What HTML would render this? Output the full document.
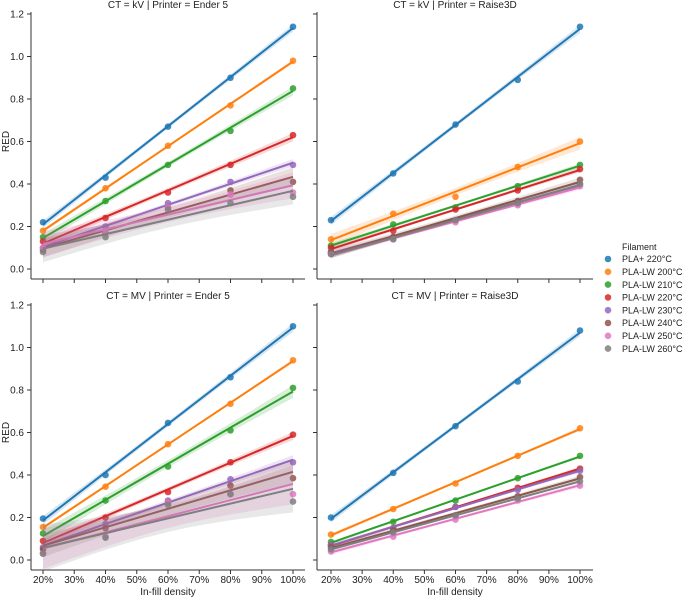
<!DOCTYPE html>
<html><head><meta charset="utf-8">
<style>
body{margin:0;background:#fff;}
svg{display:block;font-family:"Liberation Sans","DejaVu Sans",sans-serif;}
</style></head>
<body>
<svg id="chart" width="685" height="597" viewBox="0 0 685 597" xmlns="http://www.w3.org/2000/svg"></svg>
<script>
const densities = [20, 40, 60, 80, 100];
const filaments = ["PLA+ 220°C","PLA-LW 200°C","PLA-LW 210°C","PLA-LW 220°C","PLA-LW 230°C","PLA-LW 240°C","PLA-LW 250°C","PLA-LW 260°C"];
const colors = ["#1f77b4","#ff7f0e","#2ca02c","#d62728","#9467bd","#8c564b","#e377c2","#7f7f7f"];
const xTicks = [20,30,40,50,60,70,80,90,100];
const yTicks = [0,0.2,0.4,0.6,0.8,1.0,1.2];
const kvEnder = [
 [0.22,0.43,0.67,0.90,1.14],[0.18,0.38,0.58,0.77,0.98],[0.15,0.32,0.49,0.65,0.85],[0.13,0.24,0.36,0.49,0.63],
 [0.10,0.20,0.31,0.41,0.49],[0.09,0.17,0.29,0.37,0.41],[0.10,0.18,0.29,0.35,0.36],[0.08,0.15,0.28,0.31,0.34]];
const kvRaise = [
 [0.23,0.45,0.68,0.89,1.14],[0.14,0.26,0.34,0.48,0.60],[0.11,0.21,0.29,0.39,0.49],[0.10,0.18,0.28,0.37,0.47],
 [0.08,0.15,0.23,0.31,0.40],[0.08,0.15,0.23,0.32,0.42],[0.07,0.14,0.22,0.30,0.39],[0.07,0.14,0.23,0.31,0.40]];
const mvEnder = [
 [0.195,0.40,0.645,0.86,1.10],[0.155,0.345,0.545,0.735,0.94],[0.125,0.28,0.44,0.61,0.81],[0.09,0.20,0.32,0.46,0.59],
 [0.06,0.17,0.28,0.38,0.46],[0.05,0.15,0.27,0.35,0.385],[0.03,0.11,0.27,0.31,0.31],[0.03,0.105,0.26,0.31,0.275]];
const mvRaise = [
 [0.20,0.41,0.63,0.84,1.08],[0.12,0.24,0.36,0.49,0.62],[0.085,0.18,0.28,0.385,0.49],[0.07,0.15,0.25,0.34,0.43],
 [0.07,0.15,0.25,0.33,0.42],[0.06,0.14,0.21,0.30,0.39],[0.04,0.11,0.19,0.28,0.35],[0.05,0.13,0.21,0.29,0.37]];
const panelTitles = ["CT = kV | Printer = Ender 5","CT = kV | Printer = Raise3D","CT = MV | Printer = Ender 5","CT = MV | Printer = Raise3D"];

const NS="http://www.w3.org/2000/svg";
const svg=document.getElementById('chart');
function mk(tag,attrs,parent){const e=document.createElementNS(NS,tag);for(const k in attrs)e.setAttribute(k,attrs[k]);(parent||svg).appendChild(e);return e;}

const panels=[
 {data:kvEnder,ax:31,x20:43,x100:293,xEnd:305,y0:269,y12:14,bottom:279,left:true,xl:false},
 {data:kvRaise,ax:317,x20:331,x100:580,xEnd:593,y0:269,y12:14,bottom:279,left:false,xl:false},
 {data:mvEnder,ax:31,x20:43,x100:293,xEnd:305,y0:560,y12:305,bottom:570,left:true,xl:true},
 {data:mvRaise,ax:317,x20:331,x100:580,xEnd:593,y0:560,y12:305,bottom:570,left:false,xl:true}];

panels.forEach((p,pi)=>{
 const g=mk('g',{});
 
 
 const X=v=>p.x20+(v-20)*(p.x100-p.x20)/80;
 const Y=v=>p.y0-v*(p.y0-p.y12)/1.2;
 const t=mk('text',{x:(p.ax+p.xEnd)/2,y:p.y12-6,'text-anchor':'middle','font-size':'10',fill:'#222'},g);
 t.textContent=panelTitles[pi];
 
 
 const top=p.y12-2;
 mk('line',{x1:p.ax,y1:top,x2:p.ax,y2:p.bottom,stroke:'#333','stroke-width':1},g);
 mk('line',{x1:p.ax,y1:p.bottom,x2:p.xEnd,y2:p.bottom,stroke:'#333','stroke-width':1},g);
 yTicks.forEach(v=>{
  mk('line',{x1:p.ax-4,y1:Y(v),x2:p.ax,y2:Y(v),stroke:'#333'},g);
  if(p.left){const tt=mk('text',{x:p.ax-7,y:Y(v)+3.5,'text-anchor':'end','font-size':'10',fill:'#222'},g);tt.textContent=v.toFixed(1);
   
   }
 });
 xTicks.forEach(v=>{
  mk('line',{x1:X(v),y1:p.bottom,x2:X(v),y2:p.bottom+4,stroke:'#333'},g);
  if(p.xl){const tt=mk('text',{x:X(v),y:p.bottom+13,'text-anchor':'middle','font-size':'10',fill:'#222'},g);tt.textContent=v+'%';
   
   }
 });
 if(p.left){const yl=mk('text',{x:0,y:0,'text-anchor':'middle','font-size':'10',fill:'#222',transform:`translate(9,${(p.y0+p.y12)/2}) rotate(-90)`},g);yl.textContent='RED';
  
  }
 if(p.xl){const xl=mk('text',{x:(p.ax+p.xEnd)/2,y:p.bottom+25,'text-anchor':'middle','font-size':'10',fill:'#222'},g);xl.textContent='In-fill density';
  
  }
 p.data.forEach((ys,si)=>{
  const n=densities.length;
  const mx=densities.reduce((a,b)=>a+b,0)/n, my=ys.reduce((a,b)=>a+b,0)/n;
  let sxx=0,sxy=0;densities.forEach((x,i)=>{sxx+=(x-mx)**2;sxy+=(x-mx)*(ys[i]-my);});
  const b=sxy/sxx,a=my-b*mx;
  let sse=0;densities.forEach((x,i)=>{sse+=(ys[i]-a-b*x)**2;});
  const se=Math.sqrt(sse/(n-2));
  const xs=[];for(let x=20;x<=100;x+=4)xs.push(x);
  const up=[],dn=[];
  xs.forEach(x=>{const h=3.18*se*Math.sqrt(1/n+(x-mx)**2/sxx)*0.75;const f=a+b*x;up.push(X(x)+','+Y(f+h));dn.push(X(x)+','+Y(f-h));});
  const band=mk('polygon',{points:up.concat(dn.reverse()).join(' '),fill:colors[si],'fill-opacity':0.18,stroke:'none'},g);
  
  
  const ln=mk('line',{x1:X(20),y1:Y(a+b*20),x2:X(100),y2:Y(a+b*100),stroke:colors[si],'stroke-width':2},g);
  
  
  ys.forEach((v,i)=>{
   const c=mk('circle',{cx:X(densities[i]),cy:Y(v),r:3.3,fill:colors[si],'fill-opacity':0.85},g);
   
   
  });
 });
});
const lg=mk('g',{});


const lt=mk('text',{x:622,y:250,'font-size':'9',fill:'#222'},lg);lt.textContent='Filament';
filaments.forEach((f,i)=>{
 const y=259+i*12.8;
 const c=mk('circle',{cx:608,cy:y,r:3.3,fill:colors[i],'fill-opacity':0.85},lg);
 
 
 const t=mk('text',{x:622,y:y+3.2,'font-size':'9',fill:'#222'},lg);t.textContent=f;
 
 
});
</script>
</body></html>
